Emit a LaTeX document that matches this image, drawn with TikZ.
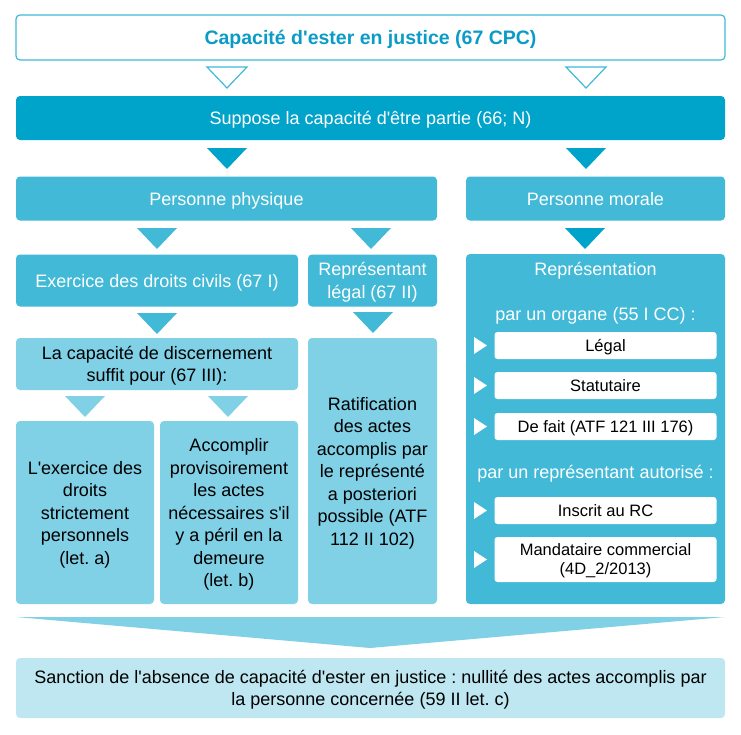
\documentclass[tikz,border=0pt]{standalone}
\usepackage{fontspec}
\setmainfont{Liberation Sans}
\definecolor{cdark}{HTML}{00A3C9}
\definecolor{cmed}{HTML}{41B9D7}
\definecolor{clight}{HTML}{80D0E6}
\definecolor{cpale}{HTML}{BEE7F1}
\definecolor{ctitle}{HTML}{0A9CC6}
\newcommand\ap{\textquotesingle}
\newcommand\dtri[4]{\fill[#1] ({#2-20},#3) -- ({#2+20},#3) -- (#2,{#3+#4}) -- cycle;}
\newcommand\rtri[1]{\fill[white] (474,{#1-8.5}) -- (487,#1) -- (474,{#1+8.5}) -- cycle;}
\begin{document}
\frenchspacing
\begin{tikzpicture}[x=1pt,y=-1pt,
  bx/.style={rounded corners=4pt, inner sep=0pt, align=center, text depth=0pt,
    font=\fontsize{18}{22.5}\selectfont},
  whitetext/.style={bx, text=white},
  wbox/.style={rounded corners=3pt, inner sep=0pt, align=center, fill=white, text depth=0pt,
    minimum width=222, font=\fontsize{16.5}{19}\selectfont},
  ptext/.style={inner sep=0pt, text=white, text depth=0pt, font=\fontsize{18}{22.5}\selectfont}]
\useasboundingbox (0,0) rectangle (741,734);

% title
\node[bx, draw=cmed, line width=1.2pt, fill=white, text=ctitle,
  font=\fontsize{19.5}{22}\selectfont\bfseries,
  minimum width=709, minimum height=45] (title) at (370.5,37.5)
  {Capacité d\ap ester en justice (67 CPC)};
\draw[cmed, line width=1.2pt, fill=white, line join=miter] (207,67) -- (247,67) -- (227,88) -- cycle;
\draw[cmed, line width=1.2pt, fill=white, line join=miter] (566,67) -- (606,67) -- (586,88) -- cycle;

\node[whitetext, fill=cdark, minimum width=709, minimum height=44] (supp) at (370.5,118)
  {Suppose la capacité d\ap être partie (66; N)};
\dtri{cdark}{227}{148}{21}
\dtri{cdark}{586}{148}{21}

\node[whitetext, fill=cmed, minimum width=421, minimum height=44] (pp) at (226.5,198.5)
  {Personne physique};
\node[whitetext, fill=cmed, minimum width=259, minimum height=44] (pm) at (595.5,198.5)
  {Personne morale};

\dtri{cmed}{157}{228}{21}
\dtri{cmed}{371}{228}{21}
\dtri{cdark}{585}{228}{21}

\node[whitetext, fill=cmed, minimum width=282, minimum height=52] (exer) at (157,280.5)
  {Exercice des droits civils (67 I)};
\node[whitetext, fill=cmed, minimum width=129, minimum height=52] (rep) at (372.5,280.5)
  {Représentant\\légal (67 II)};

% right panel
\node[bx, fill=cmed, minimum width=259, minimum height=350] (repr) at (595.5,429) {};
\node[ptext] (reprt) at (595.5,269) {Représentation};
\node[ptext] (org) at (595.5,314) {par un organe (55 I CC) :};
\node[ptext] (aut) at (595.5,471.5) {par un représentant autorisé :};
\node[wbox, minimum height=27] (legal) at (605.5,345.5) {Légal};
\node[wbox, minimum height=27] (stat) at (605.5,385.5) {Statutaire};
\node[wbox, minimum height=27] (fait) at (605.5,426.5) {De fait (ATF 121 III 176)};
\node[wbox, minimum height=27] (rc) at (605.5,510.5) {Inscrit au RC};
\node[wbox, minimum height=45] (mand) at (605.5,559.5) {Mandataire commercial\\(4D\_2/2013)};
\rtri{345.5}
\rtri{385.5}
\rtri{426.5}
\rtri{510.5}
\rtri{559.5}

\dtri{cmed}{157}{313}{21}
\dtri{cmed}{373}{312}{21}

\node[bx, fill=clight, minimum width=282, minimum height=52] (capa) at (157,364)
  {La capacité de discernement\\suffit pour (67 III):};
\node[bx, fill=clight, minimum width=129, minimum height=266] (rati) at (372.5,471)
  {Ratification\\des actes\\accomplis par\\le représenté\\a posteriori\\possible (ATF\\112 II 102)};

\dtri{clight}{85}{396}{21}
\dtri{clight}{228}{396}{21}

\node[bx, fill=clight, minimum width=138, minimum height=183] (lexer) at (85,512.5)
  {L\ap exercice des\\droits\\strictement\\personnels\\(let. a)};
\node[bx, fill=clight, minimum width=138, minimum height=183] (accom) at (229,512.5)
  {Accomplir\\provisoirement\\les actes\\nécessaires s\ap il\\y a péril en la\\demeure\\(let. b)};

\fill[clight] (16,617) -- (725,617) -- (370,648) -- cycle;

\node[bx, fill=cpale, minimum width=709, minimum height=60] (sanc) at (370.5,688)
  {Sanction de l\ap absence de capacité d\ap ester en justice : nullité des actes accomplis par\\la personne concernée (59 II let. c)};
\end{tikzpicture}
\end{document}
